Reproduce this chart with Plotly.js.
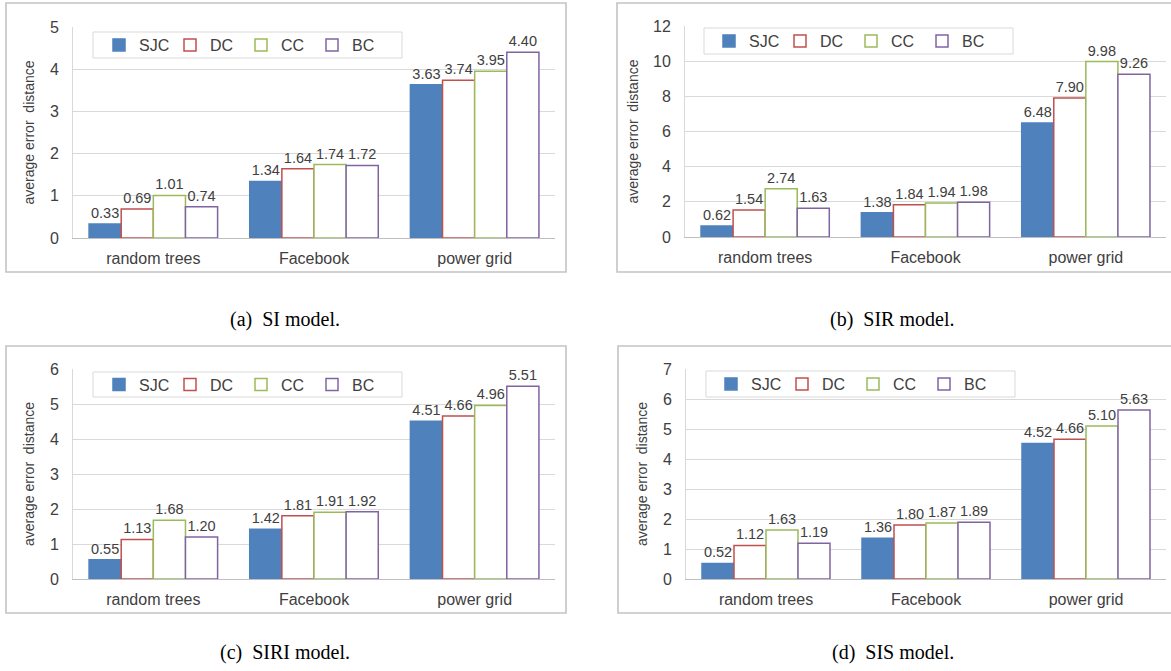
<!DOCTYPE html>
<html>
<head>
<meta charset="utf-8">
<script src="https://cdn.plot.ly/plotly-3.0.1.min.js"></script>
<style>html,body{margin:0;padding:0;background:#fff;}#chart{width:1171px;height:671px;}</style>
</head>
<body>
<div id="chart"></div>
<script>
// ---- data ----
const categories = ['random trees', 'Facebook', 'power grid'];
const seriesNames = ['SJC', 'DC', 'CC', 'BC'];
const panelCaptions = ['(a)  SI model.', '(b)  SIR model.', '(c)  SIRI model.', '(d)  SIS model.'];
const yTitle = 'average error\u00a0 distance';

const siSJC = [0.33, 1.34, 3.63];
const siDC  = [0.69, 1.64, 3.74];
const siCC  = [1.01, 1.74, 3.95];
const siBC  = [0.74, 1.72, 4.40];

const sirSJC = [0.62, 1.38, 6.48];
const sirDC  = [1.54, 1.84, 7.90];
const sirCC  = [2.74, 1.94, 9.98];
const sirBC  = [1.63, 1.98, 9.26];

const siriSJC = [0.55, 1.42, 4.51];
const siriDC  = [1.13, 1.81, 4.66];
const siriCC  = [1.68, 1.91, 4.96];
const siriBC  = [1.20, 1.92, 5.51];

const sisSJC = [0.52, 1.36, 4.52];
const sisDC  = [1.12, 1.80, 4.66];
const sisCC  = [1.63, 1.87, 5.10];
const sisBC  = [1.19, 1.89, 5.63];

const yMax = [5, 12, 6, 7];
const yStep = [1, 2, 1, 1];

// ---- styling / layout ----
const W = 1171, H = 671;
const fx = p => p / W;
const fy = p => 1 - p / H;
const FONT = 'Liberation Sans, Arial, sans-serif';
const SERIF = 'Liberation Serif, Times New Roman, serif';
const TXT = '#404040';

const colors = ['#4F81BD', '#C0504D', '#9BBB59', '#8064A2'];
const fills = ['#4F81BD', '#FFFFFF', '#FFFFFF', '#FFFFFF'];

const panelData = [
  [siSJC, siDC, siCC, siBC],
  [sirSJC, sirDC, sirCC, sirBC],
  [siriSJC, siriDC, siriCC, siriBC],
  [sisSJC, sisDC, sisCC, sisBC]
];

// pixel geometry of each panel
const plotX = [[73, 555], [685, 1166], [73, 555], [686, 1166]];
const plotY = [[27, 238], [26, 237], [369, 579], [369, 579]];
const frames = [[6, 3, 566, 272], [617, 3, 1185, 272], [6, 346, 566, 613], [618, 346, 1185, 613]];
const legBoxes = [[93, 32, 402, 58], [704, 28, 1013, 54], [93, 372, 402, 397], [706, 371, 1015, 397]];
const legPos = [[99, 45], [709, 41], [99, 384.5], [711, 384]];
const capPos = [[285, 320], [892, 320], [285, 652], [893, 652]];

const traces = [];
const layout = {
  width: W, height: H,
  margin: {l: 0, r: 0, t: 0, b: 0},
  paper_bgcolor: '#fff', plot_bgcolor: 'rgba(0,0,0,0)',
  barmode: 'group', bargap: 0.2, bargroupgap: 0,
  font: {family: FONT, color: TXT, size: 15},
  shapes: [], annotations: []
};

for (let p = 0; p < 4; p++) {
  const sfx = p === 0 ? '' : String(p + 1);
  const legName = 'legend' + sfx;
  for (let s = 0; s < 4; s++) {
    traces.push({
      type: 'bar',
      name: seriesNames[s],
      x: categories,
      y: panelData[p][s],
      xaxis: 'x' + sfx, yaxis: 'y' + sfx,
      legend: legName,
      marker: {color: fills[s], line: {color: colors[s], width: 1.5}},
      texttemplate: '%{y:.2f}',
      textposition: 'outside',
      textfont: {size: 14.5, color: TXT, family: FONT},
      constraintext: 'none',
      cliponaxis: false,
      hoverinfo: 'x+y+name'
    });
  }
  layout['xaxis' + sfx] = {
    domain: [fx(plotX[p][0]), fx(plotX[p][1])],
    anchor: 'y' + sfx,
    type: 'category',
    showline: true, linecolor: '#BFBFBF', linewidth: 1.2,
    showgrid: false, ticks: '', zeroline: false,
    tickfont: {size: 16, color: TXT},
    ticklabelstandoff: 6
  };
  layout['yaxis' + sfx] = {
    domain: [fy(plotY[p][1]), fy(plotY[p][0])],
    anchor: 'x' + sfx,
    range: [0, yMax[p]], dtick: yStep[p], tick0: 0,
    showgrid: true, gridcolor: '#D9D9D9', gridwidth: 1,
    showline: true, linecolor: '#D9D9D9', linewidth: 1,
    zeroline: false, ticks: '',
    tickfont: {size: 16, color: TXT},
    ticklabelstandoff: 10,
    title: {text: yTitle, font: {size: 14, color: TXT}, standoff: 11}
  };
  layout[legName] = {
    orientation: 'h',
    x: fx(legPos[p][0]), xanchor: 'left',
    y: fy(legPos[p][1]), yanchor: 'middle',
    bgcolor: 'rgba(0,0,0,0)', borderwidth: 0,
    font: {size: 16, color: TXT},
    entrywidth: 26, entrywidthmode: 'pixels',
    itemclick: false, itemdoubleclick: false
  };
  const f = frames[p];
  layout.shapes.push({
    type: 'rect', xref: 'paper', yref: 'paper',
    x0: fx(f[0]), x1: fx(f[2]), y0: fy(f[3]), y1: fy(f[1]),
    line: {color: '#C4C4C4', width: 1.6}, fillcolor: 'rgba(0,0,0,0)', layer: 'below'
  });
  const lb = legBoxes[p];
  layout.shapes.push({
    type: 'rect', xref: 'paper', yref: 'paper',
    x0: fx(lb[0]), x1: fx(lb[2]), y0: fy(lb[3]), y1: fy(lb[1]),
    line: {color: '#D9D9D9', width: 1}, fillcolor: '#FFFFFF', layer: 'above'
  });
  layout.annotations.push({
    xref: 'paper', yref: 'paper',
    x: fx(capPos[p][0]), y: fy(capPos[p][1]),
    xanchor: 'center', yanchor: 'middle',
    text: panelCaptions[p].replace('  ', '\u00a0 '),
    showarrow: false,
    font: {family: SERIF, size: 20, color: '#000'}
  });
}

Plotly.newPlot('chart', traces, layout, {displayModeBar: false, staticPlot: false});
</script>
</body>
</html>
